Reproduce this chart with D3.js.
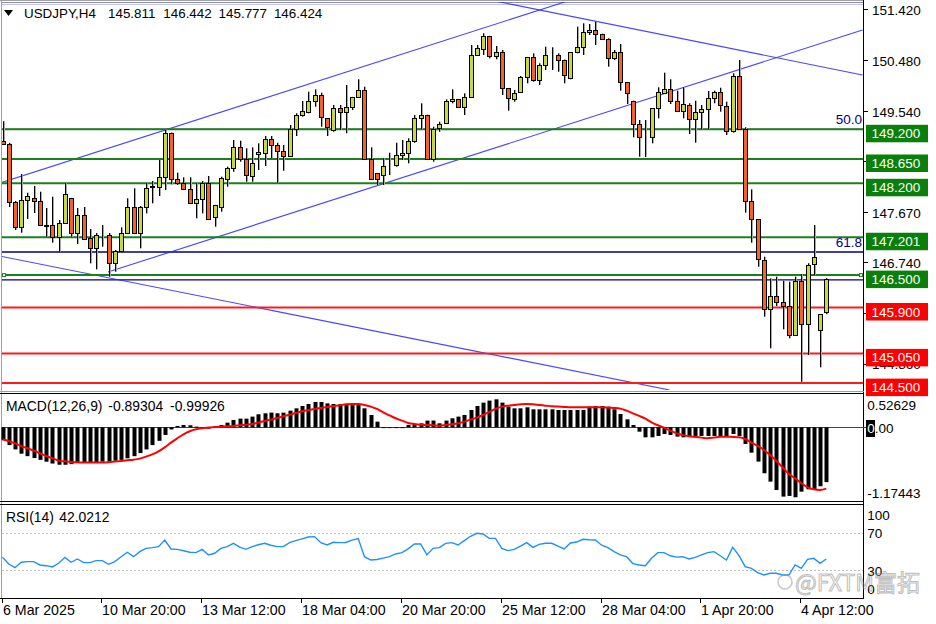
<!DOCTYPE html>
<html><head><meta charset="utf-8">
<script src="https://cdn.jsdelivr.net/npm/d3@7"></script>
<style>body{margin:0;background:#fff}svg{display:block}</style>
</head><body>
<svg id="c" width="936" height="624"></svg>
<script>
// ---------------- DATA ----------------
const symbol = "USDJPY,H4";
const openP = [148.983,148.927,147.859,147.396,147.890,147.922,147.877,147.427,147.427,147.211,
147.470,147.922,147.274,147.618,147.181,146.996,147.242,147.242,146.718,146.952,
147.274,147.755,147.274,147.755,148.137,148.137,148.322,149.126,148.274,148.211,
148.088,147.829,147.903,148.200,147.570,147.755,148.274,148.478,148.866,148.644,
148.335,148.742,148.766,149.014,148.909,148.803,148.711,149.200,149.464,149.526,
149.729,149.835,149.403,149.187,149.589,149.526,149.607,149.792,149.927,148.644,
148.385,148.353,148.539,148.539,148.724,148.766,148.988,149.403,149.464,148.644,
149.218,149.322,149.729,149.755,149.607,149.803,150.576,150.681,150.927,150.557,
150.625,149.959,149.755,149.896,150.163,150.533,150.113,150.390,150.576,150.576,
150.483,150.144,150.625,150.729,150.996,151.038,150.964,150.866,150.514,150.637,
150.070,149.729,149.294,149.057,149.052,149.589,149.877,149.940,149.729,149.544,
149.650,149.385,149.514,149.570,149.785,149.885,149.637,149.168,150.192,149.200,
147.877,147.533,146.779,145.866,146.118,145.996,145.933,145.390,146.390,145.588,
146.705,145.483,145.811];
const highP = [149.350,148.950,147.872,148.372,148.025,148.150,148.044,147.742,147.951,147.520,
148.200,147.930,147.742,147.761,147.353,147.280,147.427,147.280,146.965,147.385,
147.922,148.107,147.780,148.200,148.242,148.631,149.187,149.140,148.396,148.311,
148.311,148.200,148.242,148.335,147.800,148.322,148.507,149.001,148.988,148.848,
148.866,148.940,149.075,149.075,148.951,148.909,149.279,149.496,149.724,149.896,
149.940,149.877,149.410,149.650,149.650,150.020,149.800,150.126,149.988,148.866,
148.390,148.663,148.766,148.951,149.001,149.033,149.464,149.681,149.470,149.248,
149.340,149.755,149.940,149.760,149.866,150.761,150.761,150.977,150.930,150.742,
150.668,149.960,149.927,150.187,150.540,150.607,150.422,150.729,150.718,150.607,
150.490,150.630,151.100,151.163,151.150,151.192,150.970,150.885,150.668,150.779,
150.070,149.730,149.372,149.372,149.590,149.977,150.248,150.126,149.914,149.977,
149.681,149.729,149.650,149.909,149.914,149.970,149.711,150.237,150.483,149.237,
148.088,147.540,146.840,146.440,146.470,146.396,146.378,146.470,146.520,146.720,
147.427,145.780,146.442];
const lowP = [148.909,147.761,147.335,147.285,147.538,147.650,147.409,147.211,147.100,146.933,
147.460,147.211,147.076,147.150,146.718,146.607,147.026,146.470,146.563,146.950,
147.260,147.260,146.996,147.644,147.829,147.964,148.076,148.181,148.168,148.076,
147.816,147.551,147.644,147.520,147.396,147.674,148.137,148.414,148.600,148.229,
148.229,148.446,148.520,148.663,148.211,148.433,148.692,149.076,149.433,149.496,
149.618,149.248,149.076,149.155,149.187,149.126,149.557,149.780,148.631,148.261,
148.168,148.168,148.353,148.507,148.631,148.570,148.951,149.200,148.640,148.600,
149.155,149.310,149.681,149.600,149.464,149.779,150.557,150.576,150.514,150.496,
149.835,149.544,149.711,149.877,150.051,150.081,150.020,150.298,150.298,150.266,
150.051,150.126,150.607,150.576,150.946,150.761,150.853,150.359,150.483,149.914,
149.668,149.052,148.692,148.686,148.940,149.403,149.866,149.668,149.526,149.403,
149.113,148.951,149.200,149.200,149.681,149.526,149.094,149.137,149.187,147.655,
147.100,146.655,145.729,145.144,145.927,145.496,145.329,145.378,144.525,145.020,
146.501,144.792,145.777];
const closeP = [148.927,147.859,147.396,147.890,147.964,147.877,147.422,147.418,147.211,147.470,
148.001,147.274,147.618,147.163,146.996,147.242,147.236,146.718,146.952,147.274,
147.755,147.274,147.755,148.107,148.144,148.322,149.126,148.274,148.211,148.088,
147.829,147.903,148.200,147.533,147.798,148.292,148.478,148.866,148.644,148.353,
148.581,148.785,149.014,148.909,148.803,148.711,149.200,149.464,149.539,149.729,
149.835,149.422,149.248,149.589,149.526,149.607,149.792,149.927,148.644,148.274,
148.274,148.520,148.544,148.724,148.766,148.988,149.403,149.464,148.644,149.200,
149.292,149.724,149.755,149.607,149.803,150.576,150.700,150.927,150.557,150.625,
149.959,149.774,149.877,150.163,150.533,150.113,150.390,150.576,150.581,150.483,
150.205,150.625,150.729,150.996,151.038,150.964,150.866,150.514,150.637,150.081,
149.866,149.294,149.063,149.052,149.589,149.890,149.940,149.729,149.544,149.668,
149.385,149.514,149.576,149.785,149.885,149.650,149.168,150.192,149.200,147.877,
147.533,146.792,145.866,146.118,146.007,145.933,145.390,146.396,145.588,146.687,
146.829,145.779,146.424];
const macdHist = [-0.21,-0.29,-0.36,-0.43,-0.47,-0.50,-0.53,-0.56,-0.59,-0.61,
-0.61,-0.60,-0.58,-0.575,-0.575,-0.57,-0.56,-0.56,-0.545,-0.53,
-0.505,-0.47,-0.42,-0.36,-0.29,-0.22,-0.125,-0.035,0.022,0.038,
0.033,0.011,0.0,-0.022,0.011,0.038,0.076,0.119,0.141,0.141,
0.174,0.212,0.228,0.239,0.228,0.239,0.271,0.309,0.347,0.380,
0.413,0.413,0.39,0.38,0.38,0.38,0.38,0.38,0.309,0.201,
0.092,0.0,-0.011,-0.011,0.0,0.038,0.054,0.065,0.109,0.11,
0.065,0.109,0.147,0.174,0.201,0.282,0.347,0.402,0.435,0.456,
0.402,0.337,0.309,0.309,0.326,0.293,0.293,0.293,0.293,0.282,
0.282,0.282,0.282,0.282,0.337,0.347,0.347,0.337,0.293,0.217,
0.130,0.038,-0.071,-0.163,-0.163,-0.141,-0.109,-0.125,-0.152,-0.163,
-0.152,-0.141,-0.141,-0.141,-0.141,-0.141,-0.141,-0.109,-0.141,-0.271,
-0.413,-0.559,-0.749,-0.885,-1.021,-1.129,-1.118,-1.140,-1.048,-1.010,
-1.010,-0.960,-0.89304];
const macdSignal = [-0.195,-0.223,-0.261,-0.304,-0.342,-0.380,-0.423,-0.467,-0.505,-0.543,
-0.554,-0.565,-0.570,-0.575,-0.575,-0.575,-0.575,-0.570,-0.559,-0.548,
-0.537,-0.527,-0.510,-0.478,-0.440,-0.391,-0.326,-0.250,-0.179,-0.114,
-0.065,-0.033,-0.016,-0.005,0.005,0.011,0.016,0.022,0.033,0.043,
0.054,0.076,0.103,0.125,0.152,0.179,0.206,0.233,0.261,0.282,
0.299,0.315,0.331,0.347,0.358,0.375,0.380,0.380,0.364,0.337,
0.299,0.244,0.195,0.147,0.109,0.071,0.054,0.043,0.038,0.033,
0.027,0.038,0.049,0.065,0.092,0.125,0.157,0.201,0.250,0.299,
0.337,0.353,0.364,0.375,0.380,0.375,0.364,0.353,0.342,0.337,
0.331,0.326,0.326,0.326,0.326,0.326,0.326,0.320,0.315,0.304,
0.271,0.228,0.185,0.141,0.081,0.033,-0.005,-0.054,-0.098,-0.125,
-0.147,-0.157,-0.168,-0.179,-0.168,-0.152,-0.152,-0.157,-0.163,-0.190,
-0.250,-0.304,-0.369,-0.451,-0.548,-0.651,-0.760,-0.831,-0.912,-0.977,
-1.010,-1.021,-0.99926];
const rsiValues = [43.8,36.5,32.5,38.5,39.1,39.1,35.5,34.7,33.3,37.3,
43.8,38.4,42.0,38.0,38.0,40.2,40.2,36.2,39.1,44.5,
49.3,44.5,50.0,53.6,54.4,55.5,62.7,52.9,52.5,51.0,
49.3,48.9,52.5,46.4,48.2,53.6,55.5,59.1,55.0,52.5,
55.5,57.5,59.1,57.0,55.5,55.5,59.8,62.0,64.0,66.0,
66.4,59.8,57.3,60.2,59.8,60.0,62.5,64.2,44.5,40.9,
41.5,43.0,44.5,47.5,48.9,53.0,58.4,58.4,46.4,53.6,
54.4,59.1,59.8,57.3,62.0,66.8,70.0,69.3,64.5,64.5,
53.6,51.1,52.5,56.0,59.8,54.7,58.0,59.1,59.1,56.0,
53.0,59.5,60.5,63.5,63.0,62.7,57.0,54.4,50.0,46.4,
44.5,37.0,35.5,34.7,42.7,48.9,48.9,45.5,44.0,44.5,
42.0,43.8,46.4,48.9,50.0,45.5,40.9,54.7,46.0,33.6,
31.8,27.1,24.5,26.4,26.4,24.5,24.5,35.5,31.8,41.6,
42.7,37.3,42.0212];
const priceTicks = [151.420,150.480,149.540,148.610,147.670,146.740,145.800,144.860];
const upperLevels = [149.200,148.650,148.200,147.201,146.500];
const lowerLevels = [145.900,145.050,144.500];
const fibLevels = [149.200,146.928];
const fibLabels = ["50.0","61.8"];
const plainNavyLevels = [146.410];
// trend lines as [startIndex, startPrice, endIndex, endPrice]
const trendLines = [
  [-0.4,148.205,95.7,151.766],
  [16.9,146.557,137.8,151.038],
  [78.1,151.594,137.8,150.205],
  [-0.4,146.853,106.9,144.372]
];
const xTickIndex = [0,16,32,48,64,80,96,112,128];
const xTickLabels = ["6 Mar 2025","10 Mar 20:00","13 Mar 12:00","18 Mar 04:00","20 Mar 20:00","25 Mar 12:00","28 Mar 04:00","1 Apr 20:00","4 Apr 12:00"];
const macdName = "MACD(12,26,9)";
const macdAxis = [0.52629, 0.00, -1.17443];
const rsiName = "RSI(14)";
const rsiAxis = [100,70,30,0];
const rsiLevels = [70,30];

// ---------------- DRAW ----------------
const svg = d3.select('#c');
const F = '"Liberation Sans", Arial, sans-serif';
const n = openP.length;
const x = d3.scaleLinear().domain([0, n-1]).range([2.5, 826.3]);
const y = d3.scaleLinear().domain([144.391, 151.557]).range([389, 2]);
const ym = d3.scaleLinear().domain([-1.17443, 0.52629]).range([499.4, 395]);
const yr = d3.scaleLinear().domain([0,100]).range([597.5, 505.8]);
const BULL = '#c8d83e', BEAR = '#f3622a';

svg.append('rect').attr('width',936).attr('height',624).attr('fill','#fff');
const defs = svg.append('defs');
defs.append('clipPath').attr('id','mc').append('rect').attr('x',2).attr('y',2).attr('width',861).attr('height',388);
defs.append('clipPath').attr('id','rc').append('rect').attr('x',2).attr('y',505).attr('width',861).attr('height',93);

// frames
const fr = svg.append('g').attr('shape-rendering','crispEdges');
fr.append('line').attr('x1',0).attr('x2',864).attr('y1',0.5).attr('y2',0.5).attr('stroke','#a0a0a0');
fr.append('line').attr('x1',1.5).attr('x2',1.5).attr('y1',0).attr('y2',598).attr('stroke','#a0a0a0');
fr.append('line').attr('x1',863.5).attr('x2',863.5).attr('y1',0).attr('y2',598).attr('stroke','#000');
fr.append('line').attr('x1',0).attr('x2',864).attr('y1',391.5).attr('y2',391.5).attr('stroke','#a0a0a0');
fr.append('line').attr('x1',0).attr('x2',864).attr('y1',393.5).attr('y2',393.5).attr('stroke','#000');
fr.append('line').attr('x1',0).attr('x2',864).attr('y1',501.5).attr('y2',501.5).attr('stroke','#000');
fr.append('line').attr('x1',0).attr('x2',864).attr('y1',504.5).attr('y2',504.5).attr('stroke','#000');
fr.append('line').attr('x1',0).attr('x2',864).attr('y1',598.5).attr('y2',598.5).attr('stroke','#000');

// main panel
const main = svg.append('g').attr('clip-path','url(#mc)');
main.append('line').attr('x1',2).attr('x2',863).attr('y1',2.5).attr('y2',2.5).attr('stroke','#8c8cc8');
main.append('line').attr('x1',2).attr('x2',863).attr('y1',4.5).attr('y2',4.5).attr('stroke','#c4c4e0');
main.selectAll('.fib').data(fibLevels.concat(plainNavyLevels)).join('line')
  .attr('x1',2).attr('x2',863).attr('y1',d=>y(d)).attr('y2',d=>y(d))
  .attr('stroke','#000080').attr('stroke-width',1.3);
main.selectAll('.tl').data(trendLines).join('line')
  .attr('x1',d=>x(d[0])).attr('y1',d=>y(d[1])).attr('x2',d=>x(d[2])).attr('y2',d=>y(d[3]))
  .attr('stroke','#2626ff').attr('stroke-width',1.1).attr('opacity',0.85);
main.selectAll('.ul').data(upperLevels).join('line')
  .attr('x1',2).attr('x2',863).attr('y1',d=>y(d)).attr('y2',d=>y(d))
  .attr('stroke','#1b801b').attr('stroke-width',2);
main.selectAll('.ll').data(lowerLevels).join('line')
  .attr('x1',2).attr('x2',863).attr('y1',d=>y(d)).attr('y2',d=>y(d))
  .attr('stroke','#ff1a1a').attr('stroke-width',2);
svg.selectAll('.fibt').data(fibLevels).join('text')
  .attr('x',862).attr('y',d=>y(d)-5).attr('text-anchor','end')
  .attr('font-family',F).attr('font-size',13.5).attr('fill','#000080')
  .text((d,i)=>fibLabels[i]);
[2, 859].forEach(hx=>{
  svg.append('rect').attr('x',hx+0.5).attr('y',y(upperLevels[4])-1.5).attr('width',3).attr('height',3)
    .attr('fill','#fff').attr('stroke','#1b801b').attr('stroke-width',1);
});

// candles
const idx = d3.range(n);
const cg = main.append('g');
cg.selectAll('.wg').data(idx).join('line')
  .attr('x1',i=>Math.round(x(i))+1.5).attr('x2',i=>Math.round(x(i))+1.5)
  .attr('y1',i=>y(highP[i])).attr('y2',i=>y(lowP[i]))
  .attr('stroke','#a8a8a8').attr('stroke-width',1);
cg.selectAll('.wk').data(idx).join('line')
  .attr('x1',i=>Math.round(x(i))+0.5).attr('x2',i=>Math.round(x(i))+0.5)
  .attr('y1',i=>y(highP[i])).attr('y2',i=>y(lowP[i]))
  .attr('stroke','#000').attr('stroke-width',1);
cg.selectAll('.bd').data(idx).join('rect')
  .attr('x',i=>Math.round(x(i))-1.5)
  .attr('y',i=>Math.round(y(Math.max(openP[i],closeP[i])))+0.5)
  .attr('width',4)
  .attr('height',i=>Math.max(0, Math.round(y(Math.min(openP[i],closeP[i])))-Math.round(y(Math.max(openP[i],closeP[i])))))
  .attr('fill',i=>closeP[i]>=openP[i]?BULL:BEAR)
  .attr('stroke','#000').attr('stroke-width',1);

// right price axis
const allLevels = upperLevels.concat(lowerLevels);
const covered = t => allLevels.some(p => Math.abs(y(p)+4.3 - (y(t)+1)) < 5);
const ax = svg.append('g');
ax.selectAll('.pt').data(priceTicks).join('line')
  .attr('x1',864).attr('x2',868).attr('y1',d=>Math.round(y(d))+0.5).attr('y2',d=>Math.round(y(d))+0.5)
  .attr('stroke','#000');
ax.selectAll('.ptl').data(priceTicks.filter(t=>!covered(t))).join('text')
  .attr('x',872).attr('y',d=>y(d)+1).attr('dy','0.35em')
  .attr('font-family',F).attr('font-size',13.5).attr('fill','#000')
  .text(d=>d.toFixed(3));
function box(p, col){
  const g = svg.append('g');
  g.append('rect').attr('x',866).attr('y',y(p)-4.5).attr('width',62).attr('height',17.5).attr('fill',col);
  g.append('text').attr('x',871.5).attr('y',y(p)+4.3).attr('dy','0.35em')
   .attr('font-family',F).attr('font-size',13.5).attr('fill','#fff').text(p.toFixed(3));
}
upperLevels.forEach(p=>box(p,'#0a7f0a'));
lowerLevels.forEach(p=>box(p,'#ff0000'));

// header
svg.append('path').attr('d','M4,10 L13,10 L8.5,16 Z').attr('fill','#000');
svg.append('text').attr('x',24).attr('y',13.5).attr('dy','0.35em').attr('font-family',F)
  .attr('font-size',13.4).attr('fill','#000').text(symbol);
const last = n-1;
[openP[last],highP[last],lowP[last],closeP[last]].forEach((v,k)=>{
  svg.append('text').attr('x',108+k*55.3).attr('y',13.5).attr('dy','0.35em').attr('font-family',F)
    .attr('font-size',13.4).attr('fill','#000').text(v.toFixed(3));
});

// MACD panel
const mg = svg.append('g');
mg.append('line').attr('x1',2).attr('x2',866).attr('y1',Math.round(ym(0))+0.5).attr('y2',Math.round(ym(0))+0.5)
  .attr('stroke','#444').attr('shape-rendering','crispEdges');
mg.selectAll('.hb').data(idx).join('rect')
  .attr('x',i=>Math.round(x(i))-1.5).attr('width',4)
  .attr('y',i=>Math.min(ym(0),ym(macdHist[i])))
  .attr('height',i=>Math.max(0.8,Math.abs(ym(macdHist[i])-ym(0))))
  .attr('fill','#000');
mg.append('path').datum(idx)
  .attr('d',d3.line().x(i=>x(i)).y(i=>ym(macdSignal[i])).curve(d3.curveMonotoneX))
  .attr('fill','none').attr('stroke','#ff0000').attr('stroke-width',2);
mg.append('text').attr('x',6).attr('y',406).attr('dy','0.35em').attr('font-family',F).attr('font-size',13.9).text(macdName);
mg.append('text').attr('x',108.3).attr('y',406).attr('dy','0.35em').attr('font-family',F).attr('font-size',13.9).text(macdHist[last].toFixed(5));
mg.append('text').attr('x',170).attr('y',406).attr('dy','0.35em').attr('font-family',F).attr('font-size',13.9).text(macdSignal[last].toFixed(5));
mg.append('text').attr('x',867.3).attr('y',405).attr('dy','0.35em').attr('font-family',F).attr('font-size',13.5).text(macdAxis[0].toFixed(5));
mg.append('rect').attr('x',866).attr('y',420).attr('width',9).attr('height',17).attr('fill','#000');
const zt = mg.append('text').attr('x',867.3).attr('y',428.5).attr('dy','0.35em').attr('font-family',F).attr('font-size',13.5);
zt.append('tspan').attr('fill','#fff').text(macdAxis[1].toFixed(2).slice(0,1));
zt.append('tspan').attr('fill','#000').text(macdAxis[1].toFixed(2).slice(1));
mg.append('text').attr('x',867.3).attr('y',493.3).attr('dy','0.35em').attr('font-family',F).attr('font-size',13.5).text(macdAxis[2].toFixed(5));

// RSI panel
const rg = svg.append('g');
rg.selectAll('.rl').data(rsiLevels).join('line')
  .attr('x1',2).attr('x2',863).attr('y1',d=>Math.round(yr(d))+0.5).attr('y2',d=>Math.round(yr(d))+0.5)
  .attr('stroke','#c0c0c0').attr('stroke-dasharray','2,2').attr('shape-rendering','crispEdges');
rg.append('path').datum(idx).attr('clip-path','url(#rc)')
  .attr('d',d3.line().x(i=>x(i)).y(i=>yr(rsiValues[i])))
  .attr('fill','none').attr('stroke','#1e90ff').attr('stroke-width',1.4);
rg.append('text').attr('x',6).attr('y',516.7).attr('dy','0.35em').attr('font-family',F).attr('font-size',13.9).text(rsiName);
rg.append('text').attr('x',59.3).attr('y',516.7).attr('dy','0.35em').attr('font-family',F).attr('font-size',13.9).text(rsiValues[last].toFixed(4));
const rsiLabY = [515, 533.3, 571, 589];
rg.selectAll('.ra').data(rsiAxis).join('text')
  .attr('x',867.3).attr('y',(d,i)=>rsiLabY[i]).attr('dy','0.35em').attr('font-family',F).attr('font-size',13.5)
  .text(d=>d);

// watermark
const wm = svg.append('g').attr('opacity',0.55);
wm.append('circle').attr('cx',785).attr('cy',582).attr('r',7).attr('fill','none').attr('stroke','#999').attr('stroke-width',1.5);
wm.append('text').attr('x',795).attr('y',591).attr('font-family','"Noto Sans CJK SC", "Liberation Sans", sans-serif')
  .attr('font-size',23).attr('fill','#fff').attr('fill-opacity',0.3).attr('stroke','#888').attr('stroke-width',1).text('@FXTM富拓');

// x axis
const xa = svg.append('g');
xa.selectAll('.xt').data(xTickIndex).join('line')
  .attr('x1',d=>Math.round(x(d))-0.5).attr('x2',d=>Math.round(x(d))-0.5).attr('y1',598).attr('y2',603)
  .attr('stroke','#000').attr('shape-rendering','crispEdges');
xa.selectAll('.xl').data(xTickIndex).join('text')
  .attr('x',d=>Math.round(x(d))).attr('y',610).attr('dy','0.35em')
  .attr('font-family',F).attr('font-size',14.2).attr('fill','#000')
  .text((d,i)=>xTickLabels[i]);
</script>
</body></html>
